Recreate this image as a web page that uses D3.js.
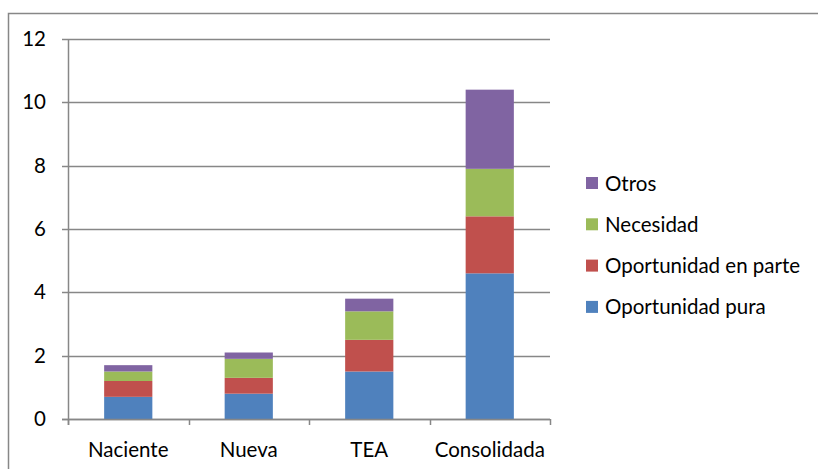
<!DOCTYPE html>
<html>
<head>
<meta charset="utf-8">
<script src="https://cdn.jsdelivr.net/npm/d3@7"></script>
<style>
  body { margin: 0; background: #fff; }
  text { font-family: Lato, "Open Sans", sans-serif; fill: #000; }
</style>
</head>
<body>
<svg id="chart" width="818" height="469"></svg>
<script>
var categories = ["Naciente", "Nueva", "TEA", "Consolidada"];
var seriesNames = ["Oportunidad pura", "Oportunidad en parte", "Necesidad", "Otros"];
var oportunidadPura = [0.7, 0.8, 1.5, 4.6];
var oportunidadParte = [0.5, 0.5, 1.0, 1.8];
var necesidad = [0.3, 0.6, 0.9, 1.5];
var otros = [0.2, 0.2, 0.4, 2.5];
var yTicks = [0, 2, 4, 6, 8, 10, 12];
var colors = ["#4f81bd", "#c0504d", "#9bbb59", "#8064a2"];

var rows = categories.map(function(c, i) {
    return {cat: c, "Oportunidad pura": oportunidadPura[i], "Oportunidad en parte": oportunidadParte[i],
            "Necesidad": necesidad[i], "Otros": otros[i]};
});

var svg = d3.select("#chart");
var grey = "#878787";
var fs = "20.5px";

// outer chart border
svg.append("rect").attr("x", 8.5).attr("y", 13.5).attr("width", 820).attr("height", 470)
    .attr("fill", "none").attr("stroke", grey).attr("stroke-width", 1.5);

var x = d3.scaleBand().domain(categories).range([68, 550]).padding(0);
var y = d3.scaleLinear().domain([0, 12]).range([419, 39]);
var barW = x.bandwidth() * 0.4;

// gridlines + y ticks
svg.append("g").selectAll("line").data(yTicks).join("line")
    .attr("x1", 62).attr("x2", 550)
    .attr("y1", function(d){ return Math.round(y(d)) + 0.5; })
    .attr("y2", function(d){ return Math.round(y(d)) + 0.5; })
    .attr("stroke", grey).attr("stroke-width", 1.5);

svg.append("g").selectAll("text").data(yTicks).join("text")
    .attr("x", 46).attr("y", function(d){ return y(d) + 7; })
    .attr("text-anchor", "end").style("font-size", fs)
    .text(function(d){ return d; });

var stack = d3.stack().keys(seriesNames);
var layers = stack(rows);

svg.append("g").selectAll("g").data(layers).join("g")
    .attr("fill", function(d, i){ return colors[i]; })
    .selectAll("rect").data(function(d){ return d; }).join("rect")
    .attr("x", function(d){ return x(d.data.cat) + (x.bandwidth() - barW) / 2; })
    .attr("width", barW)
    .attr("y", function(d){ return y(d[1]); })
    .attr("height", function(d){ return y(d[0]) - y(d[1]); });

// axes lines
svg.append("line").attr("x1", 68.5).attr("x2", 68.5).attr("y1", 39).attr("y2", 425)
    .attr("stroke", grey).attr("stroke-width", 1.5);
svg.append("line").attr("x1", 62).attr("x2", 550).attr("y1", 419.5).attr("y2", 419.5)
    .attr("stroke", grey).attr("stroke-width", 1.5);

var bounds = categories.map(function(c){ return x(c); }).concat([x.range()[1]]);
svg.append("g").selectAll("line").data(bounds).join("line")
    .attr("x1", function(d){ return Math.round(d) + 0.5; })
    .attr("x2", function(d){ return Math.round(d) + 0.5; })
    .attr("y1", 419).attr("y2", 425)
    .attr("stroke", grey).attr("stroke-width", 1.5);

svg.append("g").selectAll("text").data(categories).join("text")
    .attr("x", function(d){ return x(d) + x.bandwidth() / 2; })
    .attr("y", 457).attr("text-anchor", "middle").style("font-size", fs)
    .text(function(d){ return d; });

// legend, top item is the last series
var legend = svg.append("g").selectAll("g").data(seriesNames.slice().reverse()).join("g")
    .attr("transform", function(d, i){ return "translate(586," + (177 + i * 41.3) + ")"; });
legend.append("rect").attr("width", 12).attr("height", 12)
    .attr("fill", function(d){ return colors[seriesNames.indexOf(d)]; });
legend.append("text").attr("x", 19).attr("y", 13.5).style("font-size", fs)
    .text(function(d){ return d; });
</script>
</body>
</html>
